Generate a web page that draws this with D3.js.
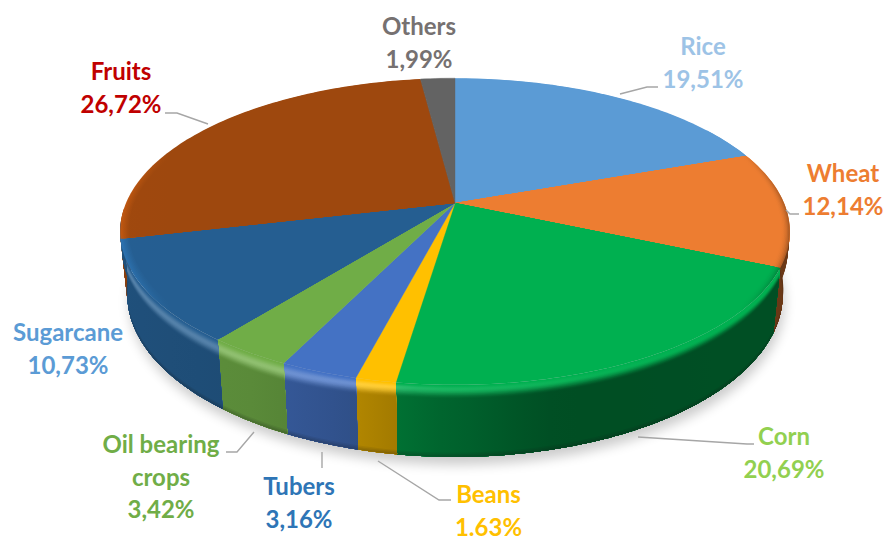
<!DOCTYPE html>
<html>
<head>
<meta charset="utf-8">
<script src="https://d3js.org/d3.v7.min.js"></script>
<style>
  html, body { margin: 0; padding: 0; background: #fff; }
  text { font-family: Lato, sans-serif; font-weight: 700; }
</style>
</head>
<body>
<svg id="chart" width="885" height="537"></svg>
<script>
const names = ["Rice", "Wheat", "Corn", "Beans", "Tubers", "Oil bearing crops", "Sugarcane", "Fruits", "Others"]
const shares = [19.51, 12.14, 20.69, 1.63, 3.16, 3.42, 10.73, 26.72, 1.99]
const shareLabels = ["19,51%", "12,14%", "20,69%", "1.63%", "3,16%", "3,42%", "10,73%", "26,72%", "1,99%"]
const sliceColors = ["#5B9BD5", "#ED7D31", "#00B050", "#FFC000", "#4472C4", "#70AD47", "#255E91", "#9E480E", "#636363"]
const labelColors = ["#9DC3E6", "#ED7D31", "#92D050", "#FFC000", "#2E75B6", "#70AD47", "#5B9BD5", "#C00000", "#767171"]

// label anchor (x, baseline of first line) and leader polyline, by slice
const labelPos = [[703, 55], [843, 182], [784, 445], [488.5, 503], [299, 495], [161, 453], [68, 341], [121, 80], [419, 35]]
const leaders = [
  [[620, 94], [647, 87], [658, 87]],
  [[786, 210], [790, 214], [799, 214]],
  [[638, 437], [747, 444], [754, 444]],
  [[378, 461], [439, 500], [451, 500]],
  [[322, 452], [322, 468]],
  [[254, 432], [237, 452], [226, 452]],
  [],
  [[165, 113], [177, 113], [208, 124]],
  []
]

const k = 0.186   // perspective of the disc
const topPlane = {x: 455, y: 203, rx: 329, ry: 148}
const botPlane = {x: 455, y: 264, rx: 322, ry: 157}

function project(plane, a, r = 1) {
  const u = Math.sin(a) * r, v = -Math.cos(a) * r
  const w = 1 - k * v
  return [plane.x + plane.rx * u / w, plane.y + plane.ry * v / w]
}
// point on the side of the disc, s goes 0 (top edge) to 1 (bottom edge)
function sidePoint(a, s) {
  const p = project(topPlane, a), q = project(botPlane, a)
  return [p[0] + (q[0] - p[0]) * s, p[1] + (q[1] - p[1]) * s]
}

const arcs = d3.pie().sort(null).value(d => d)(shares)
const svg = d3.select("#chart")
const line = d3.line()
const defs = svg.append("defs")

defs.append("filter").attr("id", "soft")
  .attr("x", "-10%").attr("y", "-10%").attr("width", "120%").attr("height", "130%")
  .append("feGaussianBlur").attr("stdDeviation", 6)

// left to right gradient, colour given by a function of the position on the disc
let gradCount = 0
function xGradient(colorAt) {
  const id = "g" + gradCount++
  const grad = defs.append("linearGradient").attr("id", id)
    .attr("gradientUnits", "userSpaceOnUse")
    .attr("x1", topPlane.x - topPlane.rx - 10).attr("x2", topPlane.x + topPlane.rx + 10)
    .attr("y1", 0).attr("y2", 0)
  d3.range(0, 1.0001, 0.04).forEach(o => {
    grad.append("stop").attr("offset", o).attr("stop-color", colorAt(o * 2 - 1))
  })
  return "url(#" + id + ")"
}

// shadow under the disc
const ringAngles = d3.range(0, 361, 3).map(d => d * Math.PI / 180)
svg.append("path")
  .attr("d", line(ringAngles.map(a => project(botPlane, a))) + "Z")
  .attr("transform", "translate(2,8)")
  .attr("fill", "#000")
  .attr("opacity", 0.2)
  .attr("filter", "url(#soft)")

// how dark the side gets, left to right
const sideShade = d3.scaleLinear()
  .domain([-1, -0.6, -0.3, -0.05, 0.3, 1])
  .range([0.85, 0.8, 0.7, 0.58, 0.44, 0.45])
// how strong the bevel highlight is, left to right
const glow = d3.scaleLinear().domain([-1, -0.22, -0.1, 0.4, 0.8]).range([0.9, 0.9, 0.45, 0.12, 0]).clamp(true)
// where the highlight peaks on the side
const peak = d3.scaleLinear().domain([-1, -0.5, -0.15, 1]).range([0.12, 0.11, 0.05, 0.05]).clamp(true)
const smooth = t => t * t * (3 - 2 * t)

function sideColor(base, u, s) {
  const c = d3.rgb(base)
  const wall = d3.rgb(c.r * sideShade(u), c.g * sideShade(u), c.b * sideShade(u))
  const bright = d3.interpolateRgb(base, "#fff")(0.24 * glow(u))
  const p = peak(u), e = p + 0.14
  if (s < p) return d3.interpolateRgb(base, bright)(smooth(s / p))
  if (s < e) return d3.interpolateRgb(bright, wall)(smooth((s - p) / (e - p)))
  if (s > 0.92) return d3.interpolateRgb(wall, "#111")((s - 0.92) / 0.08 * 0.3)
  return wall
}

function arcPoints(plane, a0, a1, r, s) {
  const n = Math.max(2, Math.ceil((a1 - a0) / 0.02))
  return d3.range(n + 1).map(j => {
    const a = a0 + (a1 - a0) * j / n
    return s === undefined ? project(plane, a, r) : sidePoint(a, s)
  })
}

// side of the disc. every band reaches down to the bottom edge and the next one paints over it
const steps = d3.range(0, 0.3, 0.0125).concat([0.92, 0.94, 0.96, 0.98])
const side = svg.append("g")
// fruits first, the sugarcane side runs over its far end
const sideOrder = [7, 0, 1, 2, 3, 4, 5, 6]
sideOrder.forEach(i => {
  const d = arcs[i]
  let a0 = d.startAngle, a1 = d.endAngle
  if (i === 7) { a1 = Math.min(a1, a0 + 0.2) }           // only this bit of fruits can be seen
  if (i === 6) { a1 = a1 + 0.12 }                        // closes the far left edge
  if (i === 0) { a0 = a0 + 1.0 }
  steps.forEach(s => {
    const pts = arcPoints(null, a0, a1, 1, s).concat(arcPoints(null, a0, a1, 1, 1).reverse())
    side.append("path")
      .attr("d", line(pts) + "Z")
      .attr("fill", xGradient(u => sideColor(sliceColors[i], u, s)))
  })
})

// top of the disc, the edge fades to a light band on the left and a dark one on the right
function rimColor(base, u, t) {
  const left = Math.max(0, (-u - 0.86) / 0.14)
  const right = Math.max(0, (u - 0.86) / 0.14)
  const lit = d3.rgb(base).brighter(0.6)
  const dark = d3.rgb(base).darker(1)
  const c = d3.interpolateRgb(base, lit)(Math.min(1, left * 1.2) * t)
  return d3.interpolateRgb(c, dark)(Math.min(1, right * 1.2) * t * t)
}
const rimStart = 0.975
const rimSteps = d3.range(1, rimStart, -0.004)
const topFace = svg.append("g")
arcs.forEach((d, i) => {
  const ang = (d.startAngle + d.endAngle) / 2
  const span = [Math.sin(d.startAngle), Math.sin(d.endAngle), Math.sin(ang)]
  const needsRim = d3.min(span) < -0.75 || d3.max(span) > 0.85
  const rings = needsRim ? rimSteps : [1]
  rings.forEach(r => {
    const pts = arcPoints(topPlane, d.startAngle, d.endAngle, r)
    topFace.append("path")
      .attr("d", line([[topPlane.x, topPlane.y], ...pts]) + "Z")
      .attr("fill", needsRim
        ? xGradient(u => rimColor(sliceColors[i], u, (r - rimStart) / (1 - rimStart)))
        : sliceColors[i])
      .attr("stroke", needsRim ? "none" : sliceColors[i])
      .attr("stroke-width", 0.4)
  })
})

// leader lines
svg.append("g").selectAll("path")
  .data(leaders.filter(d => d.length))
  .join("path")
    .attr("d", d => line(d))
    .attr("fill", "none")
    .attr("stroke", "#a6a6a6")
    .attr("stroke-width", 1.4)

// labels
const fontSize = 24, lineGap = 32.5
names.forEach((name, i) => {
  const lines = name === "Oil bearing crops" ? ["Oil bearing", "crops", shareLabels[i]] : [name, shareLabels[i]]
  svg.append("g").selectAll("text")
    .data(lines)
    .join("text")
      .attr("x", labelPos[i][0])
      .attr("y", (d, j) => labelPos[i][1] + j * lineGap)
      .attr("text-anchor", "middle")
      .attr("font-size", fontSize)
      .attr("fill", labelColors[i])
      .text(d => d)
})
</script>
</body>
</html>
